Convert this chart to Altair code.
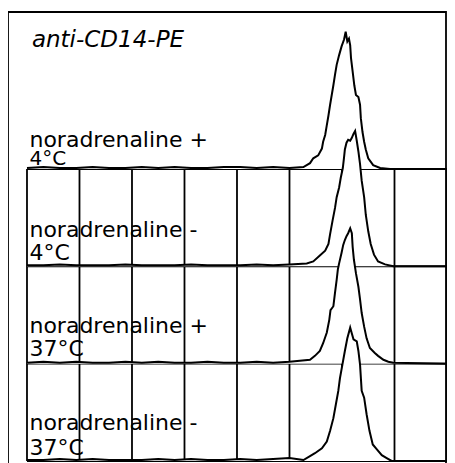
import altair as alt
import pandas as pd

# ---- categories / labels (panels listed top to bottom) ----
label_line1 = ["noradrenaline +", "noradrenaline -", "noradrenaline +", "noradrenaline -"]
label_line2 = ["4°C", "4°C", "37°C", "37°C"]
offsets = [300, 200, 100, 0]          # vertical offset of each histogram baseline (counts)
title_text = "anti-CD14-PE"
grid_channels = [0, 128, 256, 384, 512, 640, 768, 896, 1024]

# ---- histogram values (channel, count) ----
noise_ch = [0, 40, 80, 120, 160, 200, 240, 280, 320, 360, 400, 440, 480, 520, 560, 600, 640]
h1_noise = [1, 2, 1, 1, 2, 1, 1, 2, 1, 2, 1, 1, 2, 2, 1, 2, 1]
h2_noise = [1, 1, 2, 1, 1, 1, 2, 1, 1, 1, 2, 1, 1, 1, 2, 1, 2]
h3_noise = [1, 2, 1, 2, 1, 1, 2, 1, 2, 1, 1, 2, 1, 1, 2, 1, 2]
h4_noise = [1, 1, 2, 1, 2, 1, 1, 1, 2, 1, 2, 1, 1, 2, 1, 2, 3]

h1_ch = [674, 690, 698, 710, 719, 722, 727, 731, 735, 739, 743, 747, 751, 755, 761, 767, 773,
         777, 781, 785, 788, 790, 794, 798, 802, 808, 812, 814, 818, 822, 826, 832, 844, 861, 885]
h1_cnt = [2, 6, 11, 14, 21, 28, 35, 45, 55, 66, 76, 86, 97, 107, 117, 126, 133,
          141, 131, 134, 127, 114, 100, 86, 76, 74, 66, 52, 38, 28, 20, 11, 4, 1, 0]

h2_ch = [682, 698, 714, 727, 735, 739, 745, 751, 755, 761, 765, 770, 773, 775, 779, 783, 788,
         792, 796, 800, 804, 808, 812, 816, 822, 826, 832, 838, 846, 856, 873, 893]
h2_cnt = [3, 5, 11, 16, 23, 33, 47, 60, 71, 81, 91, 101, 112, 120, 127, 130, 129,
          132, 136, 139, 129, 118, 105, 88, 71, 53, 36, 23, 12, 5, 2, 0]

h3_ch = [690, 702, 714, 722, 731, 737, 740, 747, 751, 755, 758, 761, 767, 771, 775, 779, 783,
         788, 792, 794, 797, 802, 808, 812, 816, 822, 828, 836, 848, 856, 869, 881, 893]
h3_cnt = [4, 8, 13, 21, 32, 45, 55, 59, 73, 86, 97, 103, 114, 122, 127, 131, 134,
          139, 134, 120, 107, 93, 79, 66, 52, 38, 26, 16, 11, 8, 4, 2, 1]

h4_ch = [674, 690, 702, 719, 731, 739, 747, 753, 759, 763, 769, 775, 781, 788, 792, 796, 804,
         808, 812, 816, 822, 828, 835, 843, 853, 865, 877, 889]
h4_cnt = [1, 5, 8, 13, 20, 31, 44, 58, 72, 85, 99, 113, 126, 137, 131, 125, 123,
          113, 99, 72, 65, 48, 31, 17, 12, 6, 3, 0]

hist_ch = [h1_ch, h2_ch, h3_ch, h4_ch]
hist_cnt = [h1_cnt, h2_cnt, h3_cnt, h4_cnt]
hist_noise = [h1_noise, h2_noise, h3_noise, h4_noise]

# label baselines above each panel baseline (counts) and font sizes
label1_y = [23.0, 29.8, 31.8, 31.8]
label2_y = [4.3, 6.2, 8.2, 6.2]
label1_size = [22, 22, 22, 22]
label2_size = [20, 22, 22, 22]

# ---- scales (pixel geometry of the reference) ----
PX_PER_CH = 0.41016
PX_PER_CNT = 0.9733
W, H = 438, 458
X_MIN = -46.3
Y_MAX = 461.3
X_DOMAIN = [X_MIN, X_MIN + W / PX_PER_CH]
Y_DOMAIN = [Y_MAX - H / PX_PER_CNT, Y_MAX]

xs = alt.Scale(domain=X_DOMAIN, nice=False, zero=False)
ys = alt.Scale(domain=Y_DOMAIN, nice=False, zero=False)

# ---- grid ----
vgrid = pd.DataFrame({"ch": grid_channels, "y1": [offsets[0]] * len(grid_channels),
                      "y2": [offsets[-1]] * len(grid_channels)})
hgrid = pd.DataFrame({"y": offsets, "x1": [grid_channels[0]] * 4, "x2": [grid_channels[-1]] * 4})

vrules = alt.Chart(vgrid).mark_rule(color="black", strokeWidth=1.8).encode(
    x=alt.X("ch:Q", scale=xs, axis=None),
    y=alt.Y("y1:Q", scale=ys, axis=None),
    y2="y2:Q",
)
hrules = alt.Chart(hgrid).mark_rule(color="black", strokeWidth=1.8).encode(
    x=alt.X("x1:Q", scale=xs, axis=None),
    x2="x2:Q",
    y=alt.Y("y:Q", scale=ys, axis=None),
)

layers = [vrules, hrules]

# ---- labels ----
lab_rows = []
for i in range(4):
    lab_rows.append({"text": label_line1[i], "ch": 6, "y": offsets[i] + label1_y[i],
                     "size": label1_size[i]})
    lab_rows.append({"text": label_line2[i], "ch": 6, "y": offsets[i] + label2_y[i],
                     "size": label2_size[i]})
labels = pd.DataFrame(lab_rows)
label_layer = alt.Chart(labels).mark_text(
    align="left", baseline="alphabetic", font="DejaVu Sans", color="black"
).encode(
    x=alt.X("ch:Q", scale=xs, axis=None),
    y=alt.Y("y:Q", scale=ys, axis=None),
    size=alt.Size("size:Q", scale=None, legend=None),
    text="text:N",
)
layers.append(label_layer)

title_df = pd.DataFrame({"text": [title_text], "ch": [12], "y": [425.5]})
title_layer = alt.Chart(title_df).mark_text(
    align="left", baseline="alphabetic", font="DejaVu Sans", fontSize=23,
    fontStyle="italic", color="black"
).encode(
    x=alt.X("ch:Q", scale=xs, axis=None),
    y=alt.Y("y:Q", scale=ys, axis=None),
    text="text:N",
)
layers.append(title_layer)

# ---- histograms, back (top) to front (bottom) ----
for i in range(4):
    chs = noise_ch + hist_ch[i]
    cnts = hist_noise[i] + hist_cnt[i]
    df = pd.DataFrame({"ch": chs, "count": cnts})
    df["base"] = offsets[i]
    df["top"] = df["count"] + offsets[i]
    df = pd.concat([df, pd.DataFrame({"ch": [grid_channels[-1]], "count": [0],
                                      "base": [offsets[i]], "top": [offsets[i]]})])
    area = alt.Chart(df).mark_area(color="white", opacity=1).encode(
        x=alt.X("ch:Q", scale=xs, axis=None),
        y=alt.Y("top:Q", scale=ys, axis=None),
        y2="base:Q",
    )
    line = alt.Chart(df).mark_line(color="black", strokeWidth=2).encode(
        x=alt.X("ch:Q", scale=xs, axis=None),
        y=alt.Y("top:Q", scale=ys, axis=None),
    )
    layers += [area, line]

chart = alt.layer(*layers).properties(
    width=W, height=H,
    autosize=alt.AutoSizeParams(type="none"),
    padding={"left": 0, "top": 4, "right": 1, "bottom": 0},
    background="white",
).configure_view(stroke="black", strokeWidth=1.8)

chart.save("out.html", embed_options={"renderer": "svg", "actions": False})
